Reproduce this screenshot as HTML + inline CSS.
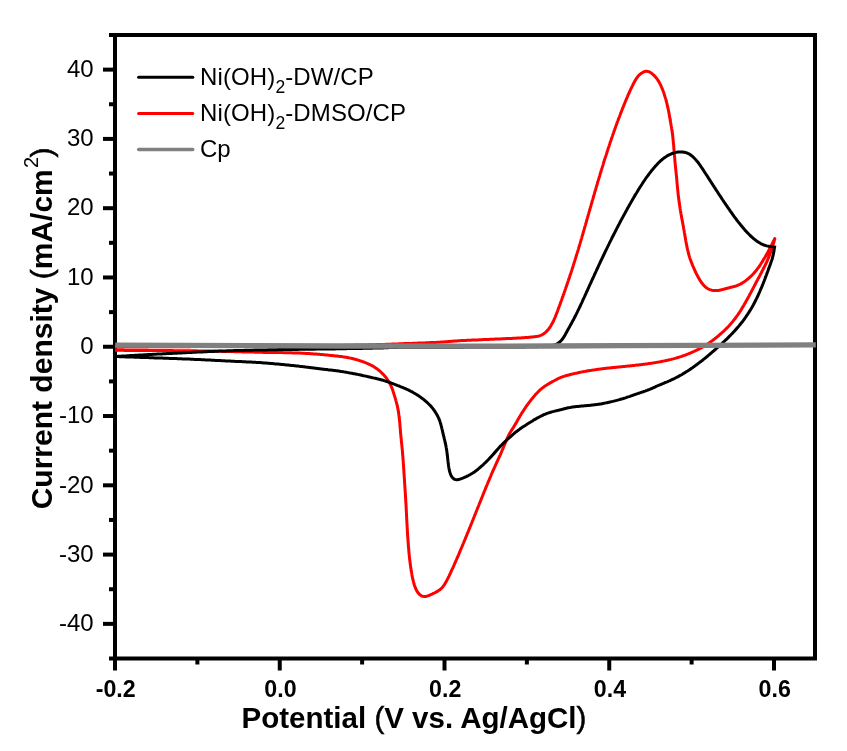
<!DOCTYPE html>
<html><head><meta charset="utf-8">
<style>
html,body{margin:0;padding:0;background:#fff;}
body{width:847px;height:751px;overflow:hidden;}
svg{display:block;}
text{font-family:"Liberation Sans",sans-serif;fill:#000;}
.pr{font-weight:normal;stroke:#000;stroke-width:0.55px;}
</style></head>
<body>
<svg style="will-change:transform" width="847" height="751" viewBox="0 0 847 751">
<rect width="847" height="751" fill="#fff"/>
<g stroke="#000" stroke-width="4" fill="none">
<rect x="115" y="35" width="700" height="623.5"/>
<line x1="103" y1="623.87" x2="115" y2="623.87"/>
<line x1="103" y1="554.59" x2="115" y2="554.59"/>
<line x1="103" y1="485.31" x2="115" y2="485.31"/>
<line x1="103" y1="416.03" x2="115" y2="416.03"/>
<line x1="103" y1="346.75" x2="115" y2="346.75"/>
<line x1="103" y1="277.47" x2="115" y2="277.47"/>
<line x1="103" y1="208.19" x2="115" y2="208.19"/>
<line x1="103" y1="138.91" x2="115" y2="138.91"/>
<line x1="103" y1="69.63" x2="115" y2="69.63"/>
<line x1="109" y1="658.51" x2="115" y2="658.51"/>
<line x1="109" y1="589.23" x2="115" y2="589.23"/>
<line x1="109" y1="519.95" x2="115" y2="519.95"/>
<line x1="109" y1="450.67" x2="115" y2="450.67"/>
<line x1="109" y1="381.39" x2="115" y2="381.39"/>
<line x1="109" y1="312.11" x2="115" y2="312.11"/>
<line x1="109" y1="242.83" x2="115" y2="242.83"/>
<line x1="109" y1="173.55" x2="115" y2="173.55"/>
<line x1="109" y1="104.27" x2="115" y2="104.27"/>
<line x1="109" y1="34.99" x2="115" y2="34.99"/>
<line x1="115.00" y1="658" x2="115.00" y2="670.5"/>
<line x1="279.75" y1="658" x2="279.75" y2="670.5"/>
<line x1="444.50" y1="658" x2="444.50" y2="670.5"/>
<line x1="609.25" y1="658" x2="609.25" y2="670.5"/>
<line x1="774.00" y1="658" x2="774.00" y2="670.5"/>
<line x1="197.38" y1="658" x2="197.38" y2="664.5"/>
<line x1="362.12" y1="658" x2="362.12" y2="664.5"/>
<line x1="526.88" y1="658" x2="526.88" y2="664.5"/>
<line x1="691.62" y1="658" x2="691.62" y2="664.5"/>
</g>
<path d="M115.0,347.0 116.0,347.0 117.0,347.0 118.0,347.0 119.0,347.0 120.0,347.0 121.0,347.0 122.0,347.0 123.0,347.0 124.0,347.0 125.0,347.0 126.0,347.0 127.0,346.9 128.0,346.9 129.0,346.9 130.0,346.9 131.0,346.9 132.0,346.9 133.0,346.9 134.0,346.9 135.0,346.9 136.0,346.9 137.0,346.9 138.0,346.9 139.0,346.9 140.0,346.9 141.0,346.9 142.0,346.9 143.0,346.9 144.0,346.9 145.0,346.9 146.0,346.9 147.0,346.9 148.0,346.9 149.0,346.8 150.0,346.8 151.0,346.8 152.0,346.8 153.0,346.8 154.0,346.8 155.0,346.8 156.0,346.8 157.0,346.8 158.0,346.8 159.0,346.8 160.0,346.8 161.0,346.8 162.0,346.8 163.0,346.8 164.0,346.8 165.0,346.8 166.0,346.8 167.0,346.8 168.0,346.8 169.0,346.8 170.0,346.8 171.0,346.7 172.0,346.7 173.0,346.7 174.0,346.7 175.0,346.7 176.0,346.7 177.0,346.7 178.0,346.7 179.0,346.7 180.0,346.7 181.0,346.7 182.0,346.7 183.0,346.7 184.0,346.7 185.0,346.7 186.0,346.7 187.0,346.7 188.0,346.7 189.0,346.7 190.0,346.7 191.0,346.6 192.0,346.6 193.0,346.6 194.0,346.6 195.0,346.6 196.0,346.6 197.0,346.6 198.0,346.6 199.0,346.6 200.0,346.6 201.0,346.6 202.0,346.6 203.0,346.6 204.0,346.6 205.0,346.6 206.0,346.6 207.0,346.6 208.0,346.6 209.0,346.6 210.0,346.5 211.0,346.5 212.0,346.5 213.0,346.5 214.0,346.5 215.0,346.5 216.0,346.5 217.0,346.5 218.0,346.5 219.0,346.5 220.0,346.5 221.0,346.5 222.0,346.5 223.0,346.5 224.0,346.5 225.0,346.5 226.0,346.5 227.0,346.5 228.0,346.5 229.1,346.5 230.1,346.5 231.1,346.4 232.1,346.4 233.1,346.4 234.1,346.4 235.1,346.4 236.1,346.4 237.1,346.4 238.1,346.4 239.1,346.4 240.1,346.4 241.1,346.4 242.1,346.4 243.1,346.4 244.1,346.4 245.1,346.4 246.1,346.4 247.1,346.4 248.1,346.4 249.1,346.4 250.1,346.4 251.1,346.3 252.1,346.3 253.1,346.3 254.1,346.3 255.1,346.3 256.1,346.3 257.1,346.3 258.1,346.3 259.1,346.3 260.1,346.3 261.1,346.3 262.1,346.3 263.1,346.3 264.1,346.3 265.1,346.3 266.1,346.3 267.1,346.3 268.1,346.3 269.1,346.2 270.1,346.2 271.1,346.2 272.1,346.2 273.1,346.2 274.1,346.2 275.1,346.2 276.1,346.2 277.1,346.2 278.1,346.2 279.1,346.2 280.1,346.2 281.1,346.2 282.1,346.2 283.1,346.1 284.1,346.1 285.1,346.1 286.1,346.1 287.1,346.1 288.1,346.1 289.1,346.1 290.1,346.1 291.1,346.1 292.1,346.1 293.1,346.1 294.1,346.1 295.1,346.0 296.1,346.0 297.1,346.0 298.1,346.0 299.1,346.0 300.1,346.0 301.1,346.0 302.1,346.0 303.1,346.0 304.1,346.0 305.1,345.9 306.1,345.9 307.1,345.9 308.1,345.9 309.1,345.9 310.1,345.9 311.1,345.9 312.1,345.9 313.1,345.8 314.1,345.8 315.1,345.8 316.1,345.8 317.1,345.8 318.1,345.8 319.1,345.8 320.1,345.7 321.1,345.7 322.1,345.7 323.1,345.7 324.1,345.7 325.1,345.7 326.1,345.7 327.1,345.6 328.1,345.6 329.1,345.6 330.1,345.6 331.1,345.6 332.1,345.6 333.1,345.5 334.1,345.5 335.1,345.5 336.1,345.5 337.1,345.5 338.1,345.4 339.1,345.4 340.1,345.4 341.1,345.4 342.1,345.4 343.1,345.4 344.1,345.3 345.1,345.3 346.1,345.3 347.1,345.3 348.1,345.3 349.1,345.2 350.1,345.2 351.1,345.2 352.1,345.2 353.1,345.2 354.1,345.1 355.1,345.1 356.1,345.1 357.1,345.1 358.1,345.1 359.1,345.0 360.1,345.0 361.1,345.0 362.1,345.0 363.1,344.9 364.1,344.9 365.1,344.9 366.1,344.9 367.1,344.9 368.1,344.8 369.1,344.8 370.1,344.8 371.1,344.8 372.1,344.7 373.1,344.7 374.1,344.7 375.1,344.7 376.1,344.7 377.1,344.6 378.1,344.6 379.1,344.6 380.1,344.5 381.1,344.5 382.1,344.5 383.1,344.4 384.1,344.4 385.1,344.4 386.1,344.3 387.1,344.3 388.1,344.3 389.1,344.2 390.1,344.2 391.1,344.2 392.1,344.1 393.1,344.1 394.1,344.0 395.1,344.0 396.1,344.0 397.1,343.9 398.1,343.9 399.1,343.8 400.1,343.8 401.1,343.8 402.1,343.7 403.1,343.7 404.1,343.6 405.1,343.6 406.1,343.6 407.1,343.5 408.1,343.5 409.1,343.5 410.1,343.4 411.1,343.4 412.1,343.4 413.1,343.3 414.1,343.3 415.1,343.2 416.1,343.2 417.1,343.2 418.1,343.1 419.1,343.1 420.1,343.0 421.1,343.0 422.1,343.0 423.1,342.9 424.1,342.9 425.1,342.9 426.1,342.8 427.1,342.8 428.1,342.7 429.1,342.7 430.1,342.6 431.1,342.6 432.1,342.6 433.1,342.5 434.1,342.5 435.1,342.4 436.1,342.4 437.1,342.3 438.1,342.3 439.1,342.2 440.1,342.2 441.1,342.1 442.1,342.0 443.1,342.0 444.1,341.9 445.1,341.8 446.1,341.8 447.1,341.7 448.1,341.6 449.1,341.5 450.1,341.4 451.1,341.3 452.0,341.2 453.0,341.2 454.0,341.1 455.0,341.0 456.0,340.9 457.0,340.9 458.0,340.8 459.0,340.8 460.0,340.7 461.0,340.6 462.0,340.6 463.0,340.5 464.0,340.5 465.0,340.4 466.0,340.4 467.0,340.3 468.0,340.3 469.0,340.3 470.0,340.2 471.0,340.2 472.0,340.1 473.0,340.1 474.0,340.0 475.0,340.0 476.0,339.9 477.0,339.9 478.0,339.9 479.0,339.8 480.0,339.8 481.0,339.7 482.0,339.7 483.0,339.6 484.0,339.6 485.0,339.6 486.0,339.5 487.0,339.5 488.0,339.4 489.0,339.4 490.0,339.3 491.0,339.3 492.0,339.3 493.0,339.2 494.0,339.2 495.0,339.1 496.0,339.1 497.0,339.0 498.0,339.0 499.0,339.0 500.0,338.9 501.0,338.9 502.0,338.8 503.0,338.8 504.0,338.7 505.0,338.7 506.0,338.6 507.0,338.6 508.0,338.6 509.0,338.5 510.0,338.5 511.0,338.4 512.0,338.4 513.0,338.3 514.0,338.3 515.0,338.2 516.0,338.2 517.0,338.1 518.0,338.1 519.0,338.0 520.0,338.0 521.0,337.9 522.0,337.8 523.0,337.8 524.0,337.7 525.0,337.6 526.0,337.5 527.0,337.4 528.0,337.4 529.0,337.3 530.0,337.2 531.0,337.1 532.0,337.0 533.0,336.9 533.9,336.8 534.9,336.7 535.9,336.5 536.9,336.4 537.9,336.2 538.8,336.0 539.8,335.7 540.7,335.4 541.6,335.0 542.5,334.6 543.3,334.1 544.1,333.5 544.9,332.9 545.6,332.3 546.3,331.6 547.0,330.9 547.7,330.1 548.3,329.4 548.9,328.6 549.5,327.8 550.1,327.0 550.6,326.2 551.1,325.3 551.6,324.4 552.1,323.6 552.6,322.7 553.1,321.8 553.5,320.9 553.9,320.0 554.3,319.1 554.7,318.2 555.1,317.3 555.5,316.3 555.9,315.4 556.2,314.5 556.6,313.5 557.0,312.6 557.3,311.7 557.7,310.7 558.0,309.8 558.3,308.9 558.7,307.9 559.0,307.0 559.4,306.0 559.7,305.1 560.1,304.2 560.4,303.2 560.7,302.3 561.1,301.3 561.4,300.4 561.8,299.5 562.1,298.5 562.4,297.6 562.8,296.6 563.1,295.7 563.4,294.7 563.8,293.8 564.1,292.9 564.4,291.9 564.8,291.0 565.1,290.0 565.4,289.1 565.7,288.1 566.1,287.2 566.4,286.2 566.7,285.3 567.0,284.3 567.4,283.4 567.7,282.5 568.0,281.5 568.3,280.6 568.6,279.6 569.0,278.7 569.3,277.7 569.6,276.8 569.9,275.8 570.2,274.9 570.6,273.9 570.9,273.0 571.2,272.0 571.5,271.1 571.8,270.1 572.1,269.2 572.4,268.2 572.7,267.3 573.0,266.3 573.3,265.4 573.6,264.4 573.9,263.4 574.2,262.5 574.5,261.5 574.8,260.6 575.1,259.6 575.4,258.7 575.7,257.7 576.0,256.8 576.3,255.8 576.6,254.8 576.9,253.9 577.2,252.9 577.5,252.0 577.8,251.0 578.1,250.1 578.4,249.1 578.6,248.1 578.9,247.2 579.2,246.2 579.5,245.3 579.8,244.3 580.1,243.4 580.4,242.4 580.6,241.4 580.9,240.5 581.2,239.5 581.5,238.6 581.8,237.6 582.0,236.6 582.3,235.7 582.6,234.7 582.9,233.8 583.2,232.8 583.4,231.8 583.7,230.9 584.0,229.9 584.3,228.9 584.5,228.0 584.8,227.0 585.1,226.1 585.4,225.1 585.6,224.1 585.9,223.2 586.2,222.2 586.5,221.2 586.7,220.3 587.0,219.3 587.3,218.4 587.6,217.4 587.8,216.4 588.1,215.5 588.4,214.5 588.7,213.6 588.9,212.6 589.2,211.6 589.5,210.7 589.8,209.7 590.0,208.7 590.3,207.8 590.6,206.8 590.9,205.9 591.1,204.9 591.4,203.9 591.7,203.0 592.0,202.0 592.2,201.0 592.5,200.1 592.8,199.1 593.1,198.2 593.4,197.2 593.6,196.2 593.9,195.3 594.2,194.3 594.5,193.4 594.7,192.4 595.0,191.4 595.3,190.5 595.6,189.5 595.9,188.6 596.1,187.6 596.4,186.6 596.7,185.7 597.0,184.7 597.3,183.8 597.6,182.8 597.8,181.8 598.1,180.9 598.4,179.9 598.7,179.0 599.0,178.0 599.3,177.0 599.6,176.1 599.8,175.1 600.1,174.2 600.4,173.2 600.7,172.3 601.0,171.3 601.3,170.3 601.6,169.4 601.9,168.4 602.2,167.5 602.5,166.5 602.8,165.6 603.1,164.6 603.4,163.6 603.6,162.7 603.9,161.7 604.2,160.8 604.5,159.8 604.8,158.9 605.1,157.9 605.5,157.0 605.8,156.0 606.1,155.1 606.4,154.1 606.7,153.2 607.0,152.2 607.3,151.3 607.6,150.3 607.9,149.4 608.2,148.4 608.5,147.5 608.9,146.5 609.2,145.6 609.5,144.6 609.8,143.7 610.1,142.7 610.4,141.8 610.8,140.8 611.1,139.9 611.4,138.9 611.7,138.0 612.1,137.0 612.4,136.1 612.7,135.1 613.0,134.2 613.4,133.2 613.7,132.3 614.0,131.4 614.4,130.4 614.7,129.5 615.0,128.5 615.4,127.6 615.7,126.6 616.1,125.7 616.4,124.8 616.7,123.8 617.1,122.9 617.4,121.9 617.8,121.0 618.1,120.1 618.5,119.1 618.8,118.2 619.2,117.3 619.6,116.3 619.9,115.4 620.3,114.5 620.6,113.5 621.0,112.6 621.3,111.7 621.7,110.7 622.1,109.8 622.4,108.9 622.8,107.9 623.2,107.0 623.5,106.1 623.9,105.1 624.3,104.2 624.7,103.3 625.0,102.4 625.4,101.4 625.8,100.5 626.2,99.6 626.6,98.7 627.0,97.7 627.4,96.8 627.7,95.9 628.1,95.0 628.6,94.1 629.0,93.2 629.4,92.2 629.8,91.3 630.2,90.4 630.6,89.5 631.0,88.6 631.5,87.7 631.9,86.8 632.4,85.9 632.8,85.0 633.2,84.1 633.7,83.2 634.2,82.4 634.6,81.5 635.1,80.6 635.6,79.8 636.2,78.9 636.7,78.1 637.3,77.3 637.9,76.5 638.5,75.8 639.2,75.1 639.9,74.4 640.7,73.8 641.5,73.2 642.3,72.7 643.1,72.2 644.0,71.8 644.9,71.5 645.9,71.3 646.8,71.3 647.8,71.4 648.7,71.6 649.6,72.0 650.4,72.5 651.2,73.0 652.0,73.6 652.8,74.3 653.5,74.9 654.2,75.6 654.9,76.3 655.5,77.1 656.2,77.8 656.8,78.6 657.4,79.4 657.9,80.2 658.5,81.1 659.0,81.9 659.5,82.8 659.9,83.7 660.4,84.5 660.8,85.4 661.2,86.3 661.6,87.3 662.0,88.2 662.4,89.1 662.8,90.0 663.1,91.0 663.5,91.9 663.8,92.9 664.1,93.8 664.4,94.8 664.7,95.7 665.0,96.7 665.3,97.6 665.6,98.6 665.9,99.5 666.1,100.5 666.4,101.5 666.6,102.4 666.9,103.4 667.1,104.4 667.3,105.4 667.5,106.3 667.7,107.3 668.0,108.3 668.2,109.3 668.4,110.3 668.6,111.2 668.8,112.2 669.0,113.2 669.2,114.2 669.3,115.2 669.5,116.1 669.7,117.1 669.9,118.1 670.1,119.1 670.2,120.1 670.4,121.1 670.6,122.1 670.7,123.0 670.9,124.0 671.1,125.0 671.2,126.0 671.4,127.0 671.6,128.0 671.7,129.0 671.9,130.0 672.0,130.9 672.2,131.9 672.3,132.9 672.4,133.9 672.6,134.9 672.7,135.9 672.8,136.9 672.9,137.9 673.0,138.9 673.1,139.9 673.2,140.9 673.3,141.9 673.4,142.9 673.5,143.9 673.6,144.9 673.7,145.8 673.8,146.8 673.8,147.8 673.9,148.8 674.0,149.8 674.1,150.8 674.2,151.8 674.2,152.8 674.3,153.8 674.4,154.8 674.5,155.8 674.6,156.8 674.7,157.8 674.8,158.8 674.8,159.8 674.9,160.8 675.0,161.8 675.1,162.8 675.2,163.8 675.3,164.8 675.4,165.8 675.5,166.8 675.6,167.8 675.7,168.8 675.8,169.8 675.9,170.8 676.0,171.8 676.1,172.8 676.2,173.7 676.3,174.7 676.4,175.7 676.5,176.7 676.6,177.7 676.7,178.7 676.8,179.7 676.9,180.7 676.9,181.7 677.0,182.7 677.1,183.7 677.2,184.7 677.3,185.7 677.4,186.7 677.5,187.7 677.6,188.7 677.7,189.7 677.8,190.7 677.9,191.7 678.0,192.7 678.1,193.7 678.2,194.7 678.3,195.7 678.4,196.6 678.6,197.6 678.7,198.6 678.8,199.6 679.0,200.6 679.1,201.6 679.2,202.6 679.4,203.6 679.5,204.6 679.7,205.6 679.8,206.6 680.0,207.5 680.1,208.5 680.3,209.5 680.4,210.5 680.6,211.5 680.8,212.5 680.9,213.5 681.1,214.5 681.3,215.4 681.5,216.4 681.6,217.4 681.8,218.4 682.0,219.4 682.2,220.4 682.4,221.3 682.6,222.3 682.7,223.3 682.9,224.3 683.1,225.3 683.3,226.3 683.5,227.2 683.6,228.2 683.8,229.2 684.0,230.2 684.2,231.2 684.3,232.2 684.5,233.2 684.7,234.1 684.8,235.1 685.0,236.1 685.2,237.1 685.3,238.1 685.5,239.1 685.7,240.1 685.8,241.0 686.0,242.0 686.2,243.0 686.4,244.0 686.6,245.0 686.8,246.0 687.0,246.9 687.2,247.9 687.4,248.9 687.6,249.9 687.9,250.8 688.1,251.8 688.3,252.8 688.6,253.7 688.9,254.7 689.1,255.7 689.4,256.6 689.7,257.6 690.0,258.5 690.4,259.5 690.7,260.4 691.0,261.4 691.4,262.3 691.8,263.2 692.1,264.1 692.5,265.1 692.9,266.0 693.3,266.9 693.7,267.8 694.1,268.7 694.5,269.7 694.9,270.6 695.3,271.5 695.8,272.4 696.2,273.3 696.6,274.2 697.1,275.1 697.5,276.0 698.0,276.8 698.5,277.7 699.0,278.6 699.5,279.4 700.0,280.3 700.6,281.1 701.1,282.0 701.7,282.8 702.3,283.6 702.9,284.3 703.5,285.1 704.2,285.8 704.9,286.5 705.6,287.1 706.4,287.7 707.2,288.3 708.1,288.8 708.9,289.2 709.8,289.6 710.8,289.9 711.7,290.2 712.7,290.4 713.6,290.5 714.6,290.6 715.6,290.6 716.6,290.6 717.5,290.5 718.5,290.4 719.5,290.2 720.5,290.0 721.4,289.8 722.4,289.6 723.4,289.3 724.3,289.1 725.3,288.8 726.3,288.5 727.2,288.3 728.2,288.0 729.1,287.8 730.1,287.5 731.1,287.3 732.0,287.0 733.0,286.8 734.0,286.5 734.9,286.3 735.9,286.0 736.8,285.7 737.7,285.3 738.6,284.9 739.5,284.5 740.4,284.1 741.3,283.6 742.2,283.1 743.0,282.6 743.8,282.0 744.7,281.5 745.5,280.9 746.3,280.3 747.0,279.7 747.8,279.0 748.6,278.4 749.3,277.7 750.1,277.0 750.8,276.4 751.5,275.7 752.2,275.0 752.9,274.3 753.6,273.5 754.3,272.8 754.9,272.0 755.6,271.3 756.2,270.5 756.8,269.7 757.4,268.9 758.0,268.1 758.6,267.3 759.2,266.5 759.7,265.7 760.3,264.8 760.8,264.0 761.3,263.1 761.9,262.3 762.4,261.4 762.9,260.6 763.4,259.7 764.0,258.9 764.5,258.0 765.0,257.2 765.5,256.3 766.0,255.4 766.5,254.6 767.0,253.7 767.5,252.8 768.0,252.0 768.4,251.1 768.9,250.2 769.4,249.3 769.8,248.4 770.3,247.5 770.7,246.6 771.2,245.7 771.6,244.9 772.1,244.0 772.6,243.1 773.0,242.2 773.5,241.3 773.9,240.4 774.4,239.5 774.8,238.6 L774.8,238.6 774.6,239.6 774.3,240.5 774.1,241.5 773.8,242.5 773.5,243.4 773.2,244.4 772.9,245.3 772.6,246.3 772.3,247.2 772.0,248.2 771.7,249.1 771.4,250.1 771.0,251.0 770.7,252.0 770.4,252.9 770.0,253.9 769.7,254.8 769.3,255.7 769.0,256.7 768.6,257.6 768.2,258.5 767.8,259.4 767.4,260.4 767.0,261.3 766.6,262.2 766.2,263.1 765.7,264.0 765.3,264.9 764.9,265.8 764.4,266.7 764.0,267.6 763.5,268.4 763.1,269.3 762.6,270.2 762.1,271.1 761.7,272.0 761.2,272.9 760.8,273.8 760.3,274.7 759.8,275.5 759.4,276.4 758.9,277.3 758.4,278.2 757.9,279.1 757.5,280.0 757.0,280.8 756.5,281.7 756.1,282.6 755.6,283.5 755.1,284.4 754.7,285.3 754.2,286.2 753.7,287.0 753.3,287.9 752.8,288.8 752.4,289.7 751.9,290.6 751.4,291.5 751.0,292.4 750.5,293.2 750.0,294.1 749.5,295.0 749.1,295.9 748.6,296.8 748.1,297.6 747.6,298.5 747.1,299.4 746.6,300.3 746.2,301.1 745.7,302.0 745.2,302.9 744.7,303.7 744.2,304.6 743.7,305.5 743.2,306.3 742.7,307.2 742.1,308.1 741.6,308.9 741.1,309.8 740.6,310.6 740.0,311.5 739.5,312.3 738.9,313.1 738.4,314.0 737.8,314.8 737.2,315.6 736.6,316.4 736.1,317.2 735.5,318.0 734.9,318.8 734.2,319.6 733.6,320.4 733.0,321.2 732.4,321.9 731.7,322.7 731.1,323.5 730.4,324.2 729.8,325.0 729.1,325.7 728.4,326.5 727.7,327.2 727.0,327.9 726.3,328.6 725.6,329.3 724.9,330.0 724.2,330.7 723.5,331.4 722.7,332.0 722.0,332.7 721.2,333.4 720.5,334.0 719.7,334.7 719.0,335.3 718.2,336.0 717.4,336.6 716.7,337.3 715.9,337.9 715.1,338.5 714.3,339.1 713.5,339.8 712.7,340.4 711.9,341.0 711.1,341.5 710.3,342.1 709.5,342.7 708.7,343.3 707.8,343.8 707.0,344.4 706.2,344.9 705.3,345.4 704.5,346.0 703.6,346.5 702.7,347.0 701.9,347.5 701.0,347.9 700.1,348.4 699.2,348.9 698.3,349.4 697.4,349.8 696.5,350.2 695.6,350.7 694.7,351.1 693.8,351.5 692.9,351.9 692.0,352.3 691.1,352.7 690.2,353.1 689.2,353.5 688.3,353.9 687.4,354.2 686.5,354.6 685.5,355.0 684.6,355.3 683.6,355.6 682.7,356.0 681.7,356.3 680.8,356.6 679.8,356.9 678.9,357.2 677.9,357.5 677.0,357.8 676.0,358.1 675.1,358.4 674.1,358.6 673.1,358.9 672.2,359.1 671.2,359.4 670.2,359.6 669.3,359.8 668.3,360.1 667.3,360.3 666.3,360.5 665.3,360.7 664.4,360.9 663.4,361.1 662.4,361.3 661.4,361.5 660.4,361.7 659.5,361.9 658.5,362.1 657.5,362.2 656.5,362.4 655.5,362.6 654.5,362.7 653.5,362.9 652.6,363.1 651.6,363.2 650.6,363.4 649.6,363.5 648.6,363.6 647.6,363.8 646.6,363.9 645.6,364.0 644.6,364.2 643.6,364.3 642.6,364.4 641.7,364.5 640.7,364.7 639.7,364.8 638.7,364.9 637.7,365.0 636.7,365.1 635.7,365.2 634.7,365.4 633.7,365.5 632.7,365.6 631.7,365.7 630.7,365.8 629.7,365.9 628.7,366.0 627.7,366.1 626.7,366.2 625.7,366.3 624.7,366.4 623.8,366.5 622.8,366.6 621.8,366.7 620.8,366.8 619.8,366.9 618.8,367.0 617.8,367.1 616.8,367.2 615.8,367.3 614.8,367.4 613.8,367.5 612.8,367.6 611.8,367.7 610.8,367.8 609.8,367.9 608.8,368.0 607.8,368.1 606.8,368.2 605.8,368.3 604.9,368.5 603.9,368.6 602.9,368.7 601.9,368.8 600.9,368.9 599.9,369.1 598.9,369.2 597.9,369.3 596.9,369.5 595.9,369.6 594.9,369.8 593.9,369.9 593.0,370.1 592.0,370.2 591.0,370.4 590.0,370.5 589.0,370.7 588.0,370.8 587.0,371.0 586.0,371.2 585.1,371.4 584.1,371.6 583.1,371.7 582.1,371.9 581.1,372.1 580.2,372.3 579.2,372.5 578.2,372.7 577.2,373.0 576.2,373.2 575.3,373.4 574.3,373.6 573.3,373.8 572.3,374.1 571.4,374.3 570.4,374.5 569.4,374.8 568.5,375.0 567.5,375.3 566.5,375.5 565.6,375.8 564.6,376.1 563.7,376.4 562.7,376.7 561.8,377.1 560.9,377.4 559.9,377.8 559.0,378.2 558.1,378.7 557.2,379.1 556.4,379.6 555.5,380.0 554.6,380.5 553.7,381.0 552.8,381.4 551.9,381.9 551.1,382.4 550.2,382.9 549.3,383.4 548.5,383.9 547.6,384.4 546.8,385.0 545.9,385.5 545.1,386.1 544.3,386.6 543.5,387.2 542.7,387.8 541.9,388.4 541.1,389.1 540.4,389.7 539.6,390.4 538.9,391.1 538.2,391.7 537.5,392.5 536.8,393.2 536.1,393.9 535.4,394.6 534.8,395.4 534.1,396.2 533.5,396.9 532.9,397.7 532.2,398.5 531.6,399.3 531.0,400.0 530.4,400.8 529.8,401.6 529.2,402.4 528.6,403.2 528.0,404.0 527.4,404.8 526.8,405.6 526.2,406.4 525.6,407.3 525.1,408.1 524.5,408.9 524.0,409.8 523.4,410.6 522.9,411.4 522.3,412.3 521.8,413.1 521.3,414.0 520.8,414.8 520.2,415.7 519.7,416.6 519.2,417.4 518.7,418.3 518.2,419.1 517.7,420.0 517.2,420.9 516.8,421.8 516.3,422.6 515.8,423.5 515.2,424.3 514.7,425.2 514.2,426.1 513.7,426.9 513.2,427.8 512.6,428.6 512.1,429.4 511.5,430.3 511.0,431.1 510.5,432.0 510.0,432.8 509.5,433.7 509.0,434.6 508.6,435.5 508.1,436.4 507.7,437.3 507.3,438.2 506.9,439.1 506.5,440.0 506.1,440.9 505.7,441.9 505.3,442.8 504.9,443.7 504.6,444.6 504.2,445.5 503.8,446.5 503.4,447.4 503.0,448.3 502.6,449.2 502.2,450.2 501.9,451.1 501.5,452.0 501.1,452.9 500.7,453.8 500.3,454.8 499.9,455.7 499.5,456.6 499.0,457.5 498.6,458.4 498.2,459.3 497.8,460.2 497.4,461.1 497.0,462.0 496.5,463.0 496.1,463.9 495.7,464.8 495.3,465.7 494.9,466.6 494.5,467.5 494.1,468.4 493.7,469.3 493.2,470.2 492.8,471.2 492.4,472.1 492.0,473.0 491.6,473.9 491.2,474.8 490.9,475.7 490.5,476.7 490.1,477.6 489.7,478.5 489.3,479.4 488.9,480.4 488.5,481.3 488.1,482.2 487.7,483.1 487.4,484.0 487.0,485.0 486.6,485.9 486.2,486.8 485.8,487.7 485.5,488.7 485.1,489.6 484.7,490.5 484.3,491.5 484.0,492.4 483.6,493.3 483.2,494.2 482.9,495.2 482.5,496.1 482.1,497.0 481.7,498.0 481.4,498.9 481.0,499.8 480.6,500.7 480.2,501.7 479.9,502.6 479.5,503.5 479.1,504.5 478.7,505.4 478.4,506.3 478.0,507.2 477.6,508.2 477.2,509.1 476.9,510.0 476.5,510.9 476.1,511.9 475.8,512.8 475.4,513.7 475.0,514.7 474.6,515.6 474.3,516.5 473.9,517.4 473.5,518.4 473.1,519.3 472.8,520.2 472.4,521.2 472.0,522.1 471.7,523.0 471.3,523.9 470.9,524.9 470.5,525.8 470.2,526.7 469.8,527.7 469.4,528.6 469.0,529.5 468.7,530.4 468.3,531.4 467.9,532.3 467.5,533.2 467.1,534.1 466.8,535.1 466.4,536.0 466.0,536.9 465.6,537.8 465.3,538.8 464.9,539.7 464.5,540.6 464.1,541.5 463.7,542.5 463.3,543.4 463.0,544.3 462.6,545.2 462.2,546.2 461.8,547.1 461.4,548.0 461.0,548.9 460.6,549.8 460.2,550.8 459.9,551.7 459.5,552.6 459.1,553.5 458.7,554.5 458.3,555.4 457.9,556.3 457.5,557.2 457.1,558.1 456.7,559.0 456.3,560.0 455.9,560.9 455.5,561.8 455.1,562.7 454.7,563.6 454.3,564.5 453.9,565.5 453.5,566.4 453.1,567.3 452.7,568.2 452.2,569.1 451.8,570.0 451.4,570.9 451.0,571.8 450.6,572.7 450.2,573.7 449.7,574.6 449.3,575.5 448.9,576.4 448.4,577.3 448.0,578.2 447.5,579.0 447.1,579.9 446.6,580.8 446.1,581.7 445.6,582.6 445.1,583.4 444.6,584.3 444.1,585.1 443.5,585.9 442.9,586.7 442.3,587.5 441.6,588.2 440.9,588.8 440.2,589.5 439.4,590.1 438.6,590.6 437.8,591.1 436.9,591.6 436.0,592.1 435.1,592.6 434.3,593.0 433.4,593.4 432.5,593.9 431.6,594.3 430.7,594.7 429.8,595.1 428.8,595.5 427.9,595.8 427.0,596.1 426.1,596.4 425.1,596.5 424.2,596.6 423.2,596.4 422.3,596.2 421.4,595.8 420.6,595.2 419.8,594.6 419.1,594.0 418.5,593.3 417.9,592.5 417.3,591.7 416.8,590.9 416.4,590.0 415.9,589.1 415.5,588.2 415.2,587.3 414.8,586.4 414.5,585.4 414.2,584.5 413.9,583.5 413.7,582.5 413.4,581.6 413.2,580.6 413.0,579.6 412.7,578.7 412.5,577.7 412.3,576.7 412.1,575.7 411.9,574.7 411.8,573.8 411.6,572.8 411.4,571.8 411.2,570.8 411.1,569.8 410.9,568.8 410.8,567.8 410.6,566.8 410.5,565.9 410.4,564.9 410.2,563.9 410.1,562.9 410.0,561.9 409.9,560.9 409.7,559.9 409.6,558.9 409.5,557.9 409.4,556.9 409.3,555.9 409.2,554.9 409.1,553.9 409.0,552.9 408.9,551.9 408.8,550.9 408.8,549.9 408.7,549.0 408.6,548.0 408.5,547.0 408.4,546.0 408.3,545.0 408.3,544.0 408.2,543.0 408.1,542.0 408.0,541.0 408.0,540.0 407.9,539.0 407.8,538.0 407.8,537.0 407.7,536.0 407.6,535.0 407.6,534.0 407.5,533.0 407.4,532.0 407.4,531.0 407.3,530.0 407.3,529.0 407.2,528.0 407.2,527.0 407.1,526.0 407.0,525.0 407.0,524.0 406.9,523.0 406.9,522.0 406.8,521.0 406.8,520.0 406.7,519.0 406.7,518.0 406.6,517.0 406.6,516.0 406.5,515.0 406.5,514.0 406.4,513.0 406.4,512.0 406.3,511.0 406.3,510.0 406.2,509.0 406.2,508.0 406.1,507.0 406.1,506.0 406.0,505.0 406.0,504.0 405.9,503.0 405.8,502.0 405.8,501.0 405.7,500.0 405.7,499.0 405.6,498.0 405.5,497.0 405.5,496.0 405.4,495.0 405.4,494.0 405.3,493.0 405.2,492.0 405.2,491.0 405.1,490.0 405.0,489.0 405.0,488.0 404.9,487.0 404.8,486.0 404.8,485.1 404.7,484.1 404.6,483.1 404.6,482.1 404.5,481.1 404.5,480.1 404.4,479.1 404.3,478.1 404.3,477.1 404.2,476.1 404.1,475.1 404.1,474.1 404.0,473.1 403.9,472.1 403.9,471.1 403.8,470.1 403.7,469.1 403.7,468.1 403.6,467.1 403.5,466.1 403.5,465.1 403.4,464.1 403.3,463.1 403.3,462.1 403.2,461.1 403.1,460.1 403.0,459.1 403.0,458.1 402.9,457.1 402.8,456.1 402.7,455.1 402.6,454.1 402.6,453.1 402.5,452.1 402.4,451.1 402.3,450.1 402.2,449.1 402.1,448.1 402.0,447.1 401.9,446.1 401.8,445.1 401.7,444.2 401.6,443.2 401.5,442.2 401.4,441.2 401.3,440.2 401.2,439.2 401.1,438.2 401.0,437.2 400.9,436.2 400.8,435.2 400.7,434.2 400.6,433.2 400.5,432.2 400.4,431.2 400.4,430.2 400.3,429.2 400.2,428.2 400.1,427.2 400.0,426.2 399.9,425.2 399.9,424.2 399.8,423.2 399.7,422.2 399.6,421.2 399.5,420.3 399.4,419.3 399.3,418.3 399.2,417.3 399.0,416.3 398.9,415.3 398.8,414.3 398.6,413.3 398.5,412.3 398.3,411.3 398.2,410.3 398.0,409.4 397.8,408.4 397.6,407.4 397.4,406.4 397.2,405.4 396.9,404.5 396.7,403.5 396.5,402.5 396.2,401.6 395.9,400.6 395.7,399.6 395.4,398.7 395.1,397.7 394.8,396.8 394.5,395.8 394.2,394.9 393.9,393.9 393.6,392.9 393.3,392.0 393.0,391.0 392.7,390.1 392.4,389.2 392.0,388.2 391.6,387.3 391.3,386.4 390.8,385.5 390.4,384.6 390.0,383.7 389.5,382.8 389.0,382.0 388.5,381.1 387.9,380.3 387.4,379.5 386.8,378.6 386.2,377.8 385.6,377.1 384.9,376.3 384.3,375.5 383.6,374.8 382.9,374.1 382.2,373.4 381.5,372.7 380.8,372.0 380.1,371.3 379.3,370.7 378.5,370.0 377.7,369.4 376.9,368.8 376.1,368.2 375.3,367.7 374.5,367.1 373.6,366.6 372.8,366.1 371.9,365.6 371.0,365.2 370.1,364.7 369.2,364.3 368.3,363.9 367.4,363.5 366.5,363.1 365.5,362.7 364.6,362.4 363.7,362.0 362.7,361.6 361.8,361.3 360.9,361.0 359.9,360.7 359.0,360.4 358.0,360.1 357.0,359.8 356.1,359.5 355.1,359.2 354.2,359.0 353.2,358.7 352.2,358.5 351.2,358.3 350.3,358.1 349.3,357.9 348.3,357.7 347.3,357.5 346.3,357.3 345.3,357.2 344.4,357.0 343.4,356.9 342.4,356.7 341.4,356.6 340.4,356.5 339.4,356.4 338.4,356.2 337.4,356.1 336.4,356.0 335.4,355.9 334.4,355.8 333.4,355.7 332.4,355.6 331.4,355.5 330.5,355.4 329.5,355.3 328.5,355.2 327.5,355.1 326.5,355.0 325.5,354.9 324.5,354.8 323.5,354.7 322.5,354.6 321.5,354.5 320.5,354.4 319.5,354.3 318.5,354.3 317.5,354.2 316.5,354.1 315.5,354.0 314.5,353.9 313.5,353.9 312.5,353.8 311.5,353.7 310.5,353.7 309.5,353.6 308.5,353.5 307.5,353.5 306.5,353.4 305.5,353.4 304.5,353.3 303.5,353.3 302.5,353.2 301.5,353.2 300.5,353.1 299.5,353.1 298.5,353.1 297.5,353.0 296.5,353.0 295.5,353.0 294.5,352.9 293.5,352.9 292.5,352.9 291.5,352.8 290.5,352.8 289.5,352.8 288.5,352.8 287.5,352.7 286.5,352.7 285.5,352.7 284.5,352.7 283.5,352.7 282.5,352.6 281.5,352.6 280.5,352.6 279.5,352.6 278.5,352.6 277.5,352.6 276.5,352.6 275.5,352.5 274.5,352.5 273.5,352.5 272.5,352.5 271.5,352.5 270.5,352.5 269.5,352.5 268.5,352.4 267.5,352.4 266.5,352.4 265.5,352.4 264.5,352.4 263.5,352.4 262.5,352.3 261.5,352.3 260.5,352.3 259.5,352.3 258.5,352.3 257.5,352.2 256.5,352.2 255.5,352.2 254.5,352.2 253.5,352.1 252.5,352.1 251.5,352.1 250.5,352.1 249.5,352.0 248.5,352.0 247.5,352.0 246.5,352.0 245.5,351.9 244.5,351.9 243.5,351.9 242.5,351.9 241.5,351.8 240.5,351.8 239.5,351.8 238.5,351.8 237.5,351.7 236.5,351.7 235.5,351.7 234.5,351.7 233.5,351.6 232.5,351.6 231.5,351.6 230.5,351.6 229.5,351.5 228.5,351.5 227.5,351.5 226.5,351.5 225.5,351.4 224.5,351.4 223.5,351.4 222.5,351.4 221.5,351.3 220.5,351.3 219.5,351.3 218.5,351.2 217.5,351.2 216.5,351.2 215.5,351.2 214.5,351.1 213.5,351.1 212.5,351.1 211.5,351.1 210.5,351.0 209.5,351.0 208.5,351.0 207.5,351.0 206.5,351.0 205.5,351.0 204.5,350.9 203.5,350.9 202.5,350.9 201.5,350.9 200.5,350.9 199.5,350.9 198.5,350.9 197.5,350.9 196.5,350.8 195.5,350.8 194.5,350.8 193.5,350.8 192.5,350.8 191.5,350.8 190.5,350.8 189.5,350.8 188.5,350.8 187.5,350.8 186.5,350.8 185.5,350.7 184.5,350.7 183.5,350.7 182.5,350.7 181.5,350.7 180.5,350.7 179.5,350.7 178.5,350.7 177.5,350.7 176.5,350.7 175.5,350.7 174.5,350.7 173.5,350.7 172.5,350.6 171.5,350.6 170.5,350.6 169.5,350.6 168.5,350.6 167.5,350.6 166.5,350.6 165.5,350.6 164.5,350.6 163.5,350.6 162.5,350.6 161.5,350.6 160.5,350.6 159.5,350.6 158.5,350.6 157.5,350.5 156.5,350.5 155.5,350.5 154.5,350.5 153.5,350.5 152.5,350.5 151.5,350.5 150.5,350.5 149.5,350.5 148.5,350.5 147.5,350.5 146.5,350.5 145.5,350.5 144.5,350.5 143.5,350.5 142.5,350.5 141.5,350.4 140.5,350.4 139.5,350.4 138.5,350.4 137.5,350.4 136.5,350.4 135.5,350.4 134.5,350.4 133.5,350.4 132.5,350.4 131.5,350.4 130.5,350.4 129.5,350.4 128.5,350.4 127.5,350.4 126.5,350.4 125.5,350.4 124.5,350.4 123.5,350.3 122.5,350.3 121.5,350.3 120.5,350.3 119.5,350.3 118.5,350.3 117.5,350.3 116.5,350.3 115.5,350.3 115.0,350.3" fill="none" stroke="#ff0000" stroke-width="3" stroke-linejoin="round" stroke-linecap="butt"/>
<path d="M115.0,356.5 116.0,356.4 117.0,356.4 118.0,356.3 119.0,356.3 120.0,356.2 121.0,356.2 122.0,356.1 123.0,356.0 124.0,356.0 125.0,355.9 126.0,355.9 127.0,355.8 128.0,355.7 129.0,355.7 130.0,355.6 131.0,355.6 132.0,355.5 133.0,355.5 134.0,355.4 135.0,355.3 136.0,355.3 137.0,355.2 138.0,355.2 139.0,355.1 140.0,355.1 141.0,355.0 142.0,354.9 143.0,354.9 144.0,354.8 145.0,354.8 146.0,354.7 147.0,354.7 148.0,354.6 149.0,354.6 150.0,354.5 151.0,354.5 152.0,354.4 153.0,354.3 154.0,354.3 155.0,354.2 156.0,354.2 157.0,354.1 158.0,354.1 159.0,354.0 160.0,354.0 161.0,353.9 162.0,353.9 163.0,353.8 163.9,353.8 164.9,353.7 165.9,353.7 166.9,353.6 167.9,353.6 168.9,353.5 169.9,353.5 170.9,353.4 171.9,353.4 172.9,353.3 173.9,353.3 174.9,353.3 175.9,353.2 176.9,353.2 177.9,353.1 178.9,353.1 179.9,353.0 180.9,352.9 181.9,352.9 182.9,352.8 183.9,352.8 184.9,352.7 185.9,352.7 186.9,352.6 187.9,352.6 188.9,352.5 189.9,352.5 190.9,352.4 191.9,352.4 192.9,352.3 193.9,352.3 194.9,352.2 195.9,352.2 196.9,352.1 197.9,352.1 198.9,352.0 199.9,352.0 200.9,352.0 201.9,351.9 202.9,351.9 203.9,351.8 204.9,351.8 205.9,351.7 206.9,351.7 207.9,351.6 208.9,351.6 209.9,351.5 210.9,351.5 211.9,351.4 212.9,351.4 213.9,351.4 214.9,351.3 215.9,351.3 216.9,351.2 217.9,351.2 218.9,351.1 219.9,351.1 220.9,351.1 221.9,351.0 222.9,351.0 223.9,350.9 224.9,350.9 225.9,350.9 226.9,350.8 227.9,350.8 228.9,350.8 229.9,350.7 230.9,350.7 231.9,350.7 232.9,350.7 233.9,350.6 234.9,350.6 235.9,350.6 236.9,350.5 237.9,350.5 238.9,350.5 239.9,350.5 240.9,350.4 241.9,350.4 242.9,350.4 243.9,350.4 244.9,350.3 245.9,350.3 246.9,350.3 247.9,350.3 248.9,350.2 249.9,350.2 250.9,350.2 251.9,350.2 252.9,350.2 253.9,350.1 254.9,350.1 255.9,350.1 256.9,350.1 257.9,350.0 258.9,350.0 259.9,350.0 260.9,350.0 261.9,350.0 262.9,349.9 263.9,349.9 264.9,349.9 265.9,349.9 266.9,349.9 267.9,349.8 268.9,349.8 269.9,349.8 270.9,349.8 271.9,349.7 272.9,349.7 273.9,349.7 274.9,349.7 275.9,349.7 276.9,349.7 277.9,349.6 278.9,349.6 279.9,349.6 280.9,349.6 281.9,349.6 282.9,349.6 283.9,349.5 284.9,349.5 285.9,349.5 286.9,349.5 287.9,349.5 288.9,349.5 289.9,349.4 290.9,349.4 291.9,349.4 292.9,349.4 293.9,349.4 294.9,349.4 295.9,349.4 296.9,349.4 297.9,349.4 298.9,349.3 299.9,349.3 300.9,349.3 301.9,349.3 302.9,349.3 303.9,349.3 304.9,349.3 305.9,349.3 306.9,349.3 307.9,349.2 308.9,349.2 309.9,349.2 310.9,349.2 311.9,349.2 312.9,349.2 313.9,349.2 314.9,349.2 315.9,349.1 316.9,349.1 317.9,349.1 318.9,349.1 319.9,349.1 320.9,349.1 321.9,349.1 322.9,349.0 323.9,349.0 324.9,349.0 325.9,349.0 326.9,349.0 327.9,349.0 328.9,348.9 329.9,348.9 330.9,348.9 331.9,348.9 332.9,348.9 333.9,348.9 334.9,348.9 335.9,348.8 336.9,348.8 337.9,348.8 338.9,348.8 339.9,348.8 340.9,348.7 341.9,348.7 342.9,348.7 344.0,348.7 345.0,348.7 346.0,348.7 347.0,348.6 348.0,348.6 349.0,348.6 350.0,348.6 351.0,348.6 352.0,348.5 353.0,348.5 354.0,348.5 355.0,348.5 356.0,348.5 357.0,348.5 358.0,348.4 359.0,348.4 360.0,348.4 361.0,348.4 362.0,348.4 363.0,348.3 364.0,348.3 365.0,348.3 366.0,348.3 367.0,348.3 368.0,348.2 369.0,348.2 370.0,348.2 371.0,348.2 372.0,348.2 373.0,348.1 374.0,348.1 375.0,348.1 376.0,348.1 377.0,348.0 378.0,348.0 379.0,348.0 380.0,348.0 381.0,347.9 382.0,347.9 383.0,347.9 384.0,347.8 385.0,347.8 386.0,347.8 387.0,347.7 388.0,347.7 389.0,347.6 390.0,347.6 391.0,347.6 392.0,347.5 393.0,347.5 394.0,347.4 395.0,347.4 396.0,347.4 397.0,347.4 398.0,347.3 399.0,347.3 400.0,347.3 401.0,347.3 402.0,347.3 403.0,347.3 404.0,347.3 405.0,347.3 406.0,347.3 407.0,347.3 408.0,347.3 409.0,347.3 410.0,347.3 411.0,347.2 412.0,347.2 413.0,347.2 414.0,347.2 415.0,347.2 416.0,347.2 417.0,347.2 418.0,347.2 419.0,347.2 420.0,347.2 421.0,347.2 422.0,347.2 423.0,347.2 424.0,347.2 425.0,347.2 426.0,347.2 427.0,347.2 428.0,347.2 429.0,347.2 430.0,347.2 431.0,347.2 432.0,347.2 433.0,347.2 434.0,347.2 435.0,347.2 436.0,347.2 437.0,347.2 438.0,347.2 439.0,347.2 440.0,347.2 441.0,347.2 442.0,347.2 443.0,347.2 444.0,347.2 445.0,347.2 446.0,347.2 447.0,347.2 448.0,347.2 449.0,347.2 450.0,347.2 451.0,347.2 452.0,347.2 453.0,347.2 454.0,347.2 455.0,347.2 456.0,347.2 457.0,347.2 458.0,347.2 459.0,347.2 460.0,347.2 461.0,347.2 462.0,347.2 463.0,347.2 464.0,347.2 465.0,347.1 466.0,347.1 467.0,347.1 468.0,347.1 469.0,347.1 470.0,347.1 471.0,347.1 472.0,347.1 473.0,347.1 474.0,347.1 475.0,347.1 476.0,347.1 477.0,347.1 478.0,347.1 479.0,347.1 480.0,347.1 481.0,347.1 482.0,347.1 483.0,347.1 484.0,347.1 485.0,347.1 486.0,347.1 487.0,347.1 488.0,347.1 489.0,347.1 490.0,347.0 491.0,347.0 492.0,347.0 493.0,347.0 494.0,347.0 495.0,347.0 496.0,347.0 497.0,347.0 498.0,347.0 499.0,347.0 500.0,347.0 501.0,347.0 502.0,347.0 503.0,347.0 504.0,347.0 505.0,347.0 506.0,347.0 507.0,347.0 508.0,347.0 509.0,347.0 510.0,347.0 511.0,346.9 512.0,346.9 513.0,346.9 514.0,346.9 515.0,346.9 516.0,346.9 517.0,346.9 518.0,346.9 519.0,346.9 520.0,346.9 521.0,346.9 522.0,346.9 523.0,346.9 524.0,346.9 525.0,346.9 526.0,346.8 527.0,346.8 528.0,346.8 529.0,346.8 530.0,346.8 531.0,346.8 532.0,346.8 533.0,346.7 534.0,346.7 535.0,346.7 536.0,346.7 537.0,346.7 538.0,346.6 539.0,346.6 540.0,346.6 541.0,346.6 542.0,346.5 543.0,346.5 544.0,346.4 545.0,346.4 546.0,346.3 547.0,346.3 548.0,346.2 549.0,346.1 550.0,345.9 551.0,345.8 551.9,345.6 552.9,345.4 553.8,345.1 554.8,344.8 555.7,344.4 556.6,344.0 557.4,343.6 558.3,343.1 559.1,342.5 559.8,341.9 560.6,341.2 561.2,340.5 561.9,339.8 562.5,339.0 563.1,338.2 563.6,337.4 564.1,336.6 564.7,335.7 565.2,334.9 565.6,334.0 566.1,333.1 566.6,332.2 567.1,331.4 567.5,330.5 568.0,329.6 568.5,328.7 569.0,327.8 569.5,327.0 569.9,326.1 570.4,325.2 570.9,324.3 571.4,323.4 571.9,322.6 572.3,321.7 572.8,320.8 573.3,319.9 573.8,319.0 574.2,318.2 574.7,317.3 575.1,316.4 575.6,315.5 576.0,314.6 576.5,313.7 576.9,312.8 577.4,311.9 577.8,311.0 578.2,310.1 578.7,309.2 579.1,308.3 579.5,307.4 580.0,306.5 580.4,305.6 580.8,304.7 581.2,303.8 581.7,302.9 582.1,302.0 582.5,301.0 582.9,300.1 583.3,299.2 583.7,298.3 584.2,297.4 584.6,296.5 585.0,295.6 585.4,294.7 585.8,293.8 586.2,292.9 586.6,291.9 587.1,291.0 587.5,290.1 587.9,289.2 588.3,288.3 588.7,287.4 589.1,286.5 589.5,285.6 589.9,284.7 590.4,283.7 590.8,282.8 591.2,281.9 591.6,281.0 592.0,280.1 592.4,279.2 592.9,278.3 593.3,277.4 593.7,276.5 594.1,275.6 594.5,274.6 594.9,273.7 595.4,272.8 595.8,271.9 596.2,271.0 596.6,270.1 597.0,269.2 597.5,268.3 597.9,267.4 598.3,266.5 598.7,265.6 599.1,264.7 599.6,263.7 600.0,262.8 600.4,261.9 600.8,261.0 601.3,260.1 601.7,259.2 602.1,258.3 602.5,257.4 603.0,256.5 603.4,255.6 603.8,254.7 604.3,253.8 604.7,252.9 605.1,252.0 605.6,251.1 606.0,250.2 606.4,249.3 606.9,248.4 607.3,247.5 607.7,246.6 608.2,245.7 608.6,244.8 609.1,243.9 609.5,243.0 609.9,242.1 610.4,241.2 610.8,240.3 611.3,239.4 611.7,238.5 612.2,237.6 612.6,236.7 613.1,235.8 613.5,234.9 614.0,234.0 614.4,233.1 614.9,232.3 615.3,231.4 615.8,230.5 616.2,229.6 616.7,228.7 617.1,227.8 617.6,226.9 618.1,226.0 618.5,225.1 619.0,224.3 619.5,223.4 619.9,222.5 620.4,221.6 620.9,220.7 621.3,219.8 621.8,219.0 622.3,218.1 622.8,217.2 623.2,216.3 623.7,215.4 624.2,214.5 624.7,213.7 625.1,212.8 625.6,211.9 626.1,211.0 626.6,210.2 627.1,209.3 627.5,208.4 628.0,207.5 628.5,206.7 629.0,205.8 629.5,204.9 630.0,204.0 630.5,203.2 631.0,202.3 631.5,201.4 632.0,200.6 632.5,199.7 633.0,198.8 633.5,198.0 634.0,197.1 634.5,196.2 635.0,195.4 635.5,194.5 636.0,193.7 636.6,192.8 637.1,192.0 637.6,191.1 638.1,190.3 638.6,189.4 639.2,188.5 639.7,187.7 640.2,186.9 640.8,186.0 641.3,185.2 641.9,184.3 642.4,183.5 642.9,182.6 643.5,181.8 644.1,181.0 644.6,180.2 645.2,179.3 645.7,178.5 646.3,177.7 646.9,176.9 647.5,176.1 648.1,175.3 648.7,174.5 649.3,173.7 649.9,172.9 650.5,172.1 651.1,171.3 651.7,170.5 652.4,169.7 653.0,168.9 653.6,168.2 654.3,167.4 654.9,166.7 655.6,165.9 656.3,165.2 657.0,164.4 657.6,163.7 658.4,163.0 659.1,162.3 659.8,161.6 660.5,160.9 661.3,160.3 662.0,159.6 662.8,159.0 663.6,158.4 664.4,157.8 665.2,157.2 666.0,156.7 666.9,156.1 667.7,155.6 668.6,155.1 669.5,154.7 670.4,154.3 671.3,153.9 672.2,153.5 673.1,153.2 674.1,152.9 675.0,152.6 676.0,152.4 676.9,152.2 677.9,152.1 678.9,152.0 679.9,151.9 680.9,151.9 681.8,151.9 682.8,152.0 683.8,152.2 684.8,152.3 685.7,152.6 686.6,152.9 687.5,153.2 688.4,153.7 689.3,154.1 690.1,154.6 690.9,155.2 691.7,155.8 692.5,156.4 693.2,157.1 693.9,157.8 694.6,158.5 695.3,159.2 696.0,159.9 696.6,160.7 697.3,161.5 697.9,162.2 698.5,163.0 699.1,163.8 699.7,164.7 700.2,165.5 700.8,166.3 701.3,167.1 701.9,168.0 702.5,168.8 703.0,169.6 703.5,170.5 704.1,171.3 704.6,172.1 705.2,173.0 705.7,173.8 706.3,174.7 706.8,175.5 707.4,176.3 707.9,177.2 708.5,178.0 709.0,178.9 709.5,179.7 710.1,180.5 710.6,181.4 711.2,182.2 711.7,183.1 712.3,183.9 712.8,184.7 713.3,185.6 713.9,186.4 714.4,187.3 715.0,188.1 715.5,188.9 716.1,189.8 716.6,190.6 717.2,191.5 717.7,192.3 718.2,193.1 718.8,194.0 719.3,194.8 719.9,195.6 720.4,196.5 721.0,197.3 721.5,198.2 722.1,199.0 722.6,199.8 723.2,200.7 723.8,201.5 724.3,202.3 724.9,203.1 725.4,204.0 726.0,204.8 726.6,205.6 727.1,206.5 727.7,207.3 728.3,208.1 728.8,208.9 729.4,209.7 730.0,210.6 730.5,211.4 731.1,212.2 731.7,213.0 732.3,213.8 732.9,214.7 733.4,215.5 734.0,216.3 734.6,217.1 735.2,217.9 735.8,218.7 736.4,219.5 737.0,220.3 737.6,221.1 738.2,221.9 738.9,222.7 739.5,223.4 740.1,224.2 740.7,225.0 741.4,225.8 742.0,226.6 742.6,227.3 743.3,228.1 743.9,228.8 744.6,229.6 745.2,230.4 745.9,231.1 746.6,231.8 747.3,232.6 748.0,233.3 748.7,234.0 749.4,234.7 750.1,235.4 750.8,236.1 751.5,236.8 752.3,237.4 753.0,238.1 753.8,238.7 754.6,239.4 755.4,240.0 756.2,240.6 757.0,241.2 757.8,241.7 758.6,242.3 759.5,242.8 760.3,243.3 761.2,243.8 762.1,244.2 763.0,244.6 763.9,245.0 764.8,245.3 765.8,245.6 766.7,245.9 767.7,246.1 768.7,246.3 769.6,246.5 770.6,246.6 771.6,246.7 772.6,246.8 773.6,246.9 774.6,247.0 L774.6,247.0 774.4,248.0 774.3,249.0 774.1,250.0 774.0,250.9 773.8,251.9 773.6,252.9 773.4,253.9 773.2,254.9 773.0,255.8 772.7,256.8 772.5,257.8 772.2,258.7 771.9,259.7 771.6,260.6 771.3,261.6 770.9,262.5 770.6,263.5 770.3,264.4 769.9,265.3 769.6,266.3 769.2,267.2 768.9,268.2 768.5,269.1 768.2,270.0 767.9,271.0 767.5,271.9 767.2,272.9 766.8,273.8 766.5,274.7 766.1,275.7 765.8,276.6 765.4,277.5 765.1,278.5 764.7,279.4 764.4,280.3 764.0,281.3 763.6,282.2 763.3,283.1 762.9,284.1 762.5,285.0 762.2,285.9 761.8,286.9 761.4,287.8 761.0,288.7 760.6,289.6 760.2,290.5 759.8,291.5 759.4,292.4 759.0,293.3 758.6,294.2 758.2,295.1 757.8,296.0 757.3,296.9 756.9,297.8 756.5,298.7 756.0,299.6 755.6,300.5 755.1,301.4 754.7,302.3 754.2,303.2 753.8,304.1 753.3,305.0 752.8,305.8 752.3,306.7 751.8,307.6 751.3,308.4 750.8,309.3 750.3,310.1 749.8,311.0 749.2,311.8 748.7,312.7 748.1,313.5 747.6,314.4 747.0,315.2 746.5,316.0 745.9,316.8 745.3,317.7 744.8,318.5 744.2,319.3 743.6,320.1 743.0,320.9 742.4,321.7 741.7,322.5 741.1,323.3 740.5,324.0 739.9,324.8 739.2,325.6 738.6,326.4 738.0,327.1 737.3,327.9 736.6,328.6 736.0,329.4 735.3,330.1 734.6,330.9 734.0,331.6 733.3,332.3 732.6,333.1 731.9,333.8 731.2,334.5 730.5,335.2 729.8,335.9 729.1,336.6 728.4,337.4 727.7,338.1 727.0,338.8 726.3,339.5 725.5,340.1 724.8,340.8 724.1,341.5 723.4,342.2 722.6,342.9 721.9,343.6 721.2,344.2 720.4,344.9 719.7,345.6 718.9,346.2 718.2,346.9 717.4,347.6 716.7,348.2 715.9,348.9 715.2,349.6 714.4,350.2 713.7,350.9 712.9,351.5 712.2,352.2 711.4,352.8 710.6,353.5 709.9,354.1 709.1,354.8 708.4,355.4 707.6,356.1 706.8,356.7 706.1,357.4 705.3,358.0 704.5,358.6 703.7,359.2 702.9,359.9 702.2,360.5 701.4,361.1 700.6,361.7 699.8,362.3 699.0,362.9 698.2,363.5 697.4,364.1 696.6,364.7 695.8,365.3 695.0,365.9 694.2,366.5 693.4,367.1 692.5,367.7 691.7,368.2 690.9,368.8 690.1,369.4 689.2,369.9 688.4,370.5 687.6,371.0 686.7,371.5 685.9,372.1 685.0,372.6 684.2,373.1 683.3,373.6 682.4,374.2 681.6,374.7 680.7,375.2 679.8,375.6 679.0,376.1 678.1,376.6 677.2,377.1 676.3,377.5 675.4,378.0 674.5,378.5 673.6,378.9 672.7,379.3 671.8,379.7 670.9,380.2 670.0,380.6 669.1,381.0 668.2,381.4 667.3,381.8 666.3,382.2 665.4,382.5 664.5,382.9 663.6,383.3 662.6,383.7 661.7,384.1 660.8,384.5 659.9,384.8 659.0,385.2 658.0,385.6 657.1,386.0 656.2,386.4 655.3,386.9 654.4,387.3 653.5,387.7 652.6,388.1 651.7,388.5 650.7,388.9 649.8,389.3 648.9,389.7 648.0,390.0 647.0,390.4 646.1,390.7 645.2,391.1 644.2,391.4 643.3,391.7 642.3,392.0 641.4,392.3 640.4,392.7 639.5,393.0 638.5,393.3 637.6,393.6 636.6,393.9 635.7,394.3 634.7,394.6 633.8,394.9 632.9,395.3 631.9,395.6 631.0,395.9 630.0,396.3 629.1,396.6 628.1,396.9 627.2,397.2 626.2,397.6 625.3,397.9 624.3,398.2 623.4,398.5 622.4,398.8 621.5,399.0 620.5,399.3 619.5,399.6 618.6,399.9 617.6,400.1 616.7,400.4 615.7,400.6 614.7,400.9 613.7,401.1 612.8,401.4 611.8,401.6 610.8,401.8 609.9,402.1 608.9,402.3 607.9,402.5 606.9,402.7 606.0,402.9 605.0,403.1 604.0,403.3 603.0,403.5 602.0,403.7 601.0,403.9 600.1,404.0 599.1,404.2 598.1,404.3 597.1,404.4 596.1,404.6 595.1,404.7 594.1,404.8 593.1,404.9 592.1,405.0 591.1,405.2 590.1,405.3 589.1,405.4 588.1,405.5 587.1,405.6 586.1,405.7 585.2,405.8 584.2,405.8 583.2,405.9 582.2,406.0 581.2,406.1 580.2,406.2 579.2,406.3 578.2,406.4 577.2,406.5 576.2,406.6 575.2,406.7 574.2,406.8 573.2,407.0 572.2,407.1 571.2,407.3 570.3,407.4 569.3,407.6 568.3,407.8 567.3,408.0 566.3,408.3 565.4,408.5 564.4,408.7 563.4,409.0 562.5,409.2 561.5,409.5 560.5,409.7 559.6,410.0 558.6,410.2 557.6,410.4 556.6,410.7 555.7,410.9 554.7,411.1 553.7,411.4 552.8,411.6 551.8,411.9 550.8,412.2 549.9,412.5 548.9,412.8 548.0,413.1 547.0,413.4 546.1,413.8 545.2,414.2 544.3,414.5 543.4,414.9 542.5,415.4 541.6,415.8 540.7,416.2 539.8,416.7 538.9,417.2 538.0,417.7 537.1,418.1 536.3,418.6 535.4,419.1 534.5,419.6 533.7,420.1 532.8,420.7 532.0,421.2 531.1,421.7 530.3,422.2 529.4,422.7 528.6,423.3 527.7,423.8 526.9,424.3 526.0,424.9 525.2,425.4 524.3,426.0 523.5,426.5 522.7,427.1 521.9,427.6 521.0,428.2 520.2,428.8 519.4,429.4 518.6,430.0 517.8,430.6 517.0,431.2 516.2,431.8 515.4,432.4 514.7,433.0 513.9,433.7 513.1,434.3 512.4,435.0 511.6,435.6 510.9,436.3 510.1,437.0 509.4,437.6 508.6,438.3 507.9,439.0 507.2,439.6 506.4,440.3 505.7,441.0 505.0,441.7 504.2,442.4 503.5,443.1 502.8,443.8 502.1,444.5 501.4,445.2 500.7,445.9 500.0,446.6 499.3,447.4 498.7,448.1 498.0,448.9 497.4,449.6 496.7,450.4 496.0,451.1 495.4,451.9 494.7,452.6 494.1,453.4 493.4,454.1 492.7,454.9 492.1,455.6 491.4,456.4 490.7,457.1 490.0,457.8 489.4,458.6 488.7,459.3 488.0,460.0 487.3,460.7 486.6,461.4 485.9,462.1 485.1,462.8 484.4,463.5 483.7,464.2 483.0,464.9 482.2,465.6 481.5,466.2 480.7,466.9 480.0,467.5 479.2,468.2 478.4,468.8 477.7,469.5 476.9,470.1 476.1,470.7 475.3,471.3 474.5,471.9 473.7,472.4 472.8,473.0 472.0,473.5 471.1,474.0 470.3,474.5 469.4,475.0 468.5,475.5 467.6,475.9 466.7,476.4 465.8,476.8 464.9,477.2 464.0,477.6 463.1,478.0 462.2,478.4 461.3,478.7 460.3,479.1 459.4,479.3 458.5,479.6 457.5,479.7 456.5,479.8 455.6,479.6 454.7,479.3 453.9,478.9 453.1,478.2 452.4,477.5 451.9,476.8 451.3,475.9 450.9,475.1 450.5,474.2 450.2,473.3 449.9,472.3 449.6,471.4 449.4,470.4 449.2,469.4 449.0,468.5 448.8,467.5 448.7,466.5 448.5,465.5 448.4,464.5 448.3,463.5 448.2,462.5 448.0,461.5 447.9,460.6 447.8,459.6 447.7,458.6 447.6,457.6 447.5,456.6 447.4,455.6 447.2,454.6 447.1,453.6 447.0,452.6 446.9,451.6 446.7,450.6 446.6,449.6 446.4,448.7 446.2,447.7 446.1,446.7 445.9,445.7 445.7,444.7 445.5,443.7 445.2,442.8 445.0,441.8 444.8,440.8 444.6,439.8 444.3,438.9 444.1,437.9 443.9,436.9 443.6,436.0 443.4,435.0 443.2,434.0 442.9,433.0 442.7,432.1 442.5,431.1 442.3,430.1 442.0,429.1 441.8,428.2 441.6,427.2 441.3,426.2 441.1,425.3 440.8,424.3 440.5,423.3 440.2,422.4 439.9,421.4 439.6,420.5 439.2,419.6 438.9,418.7 438.4,417.7 438.0,416.8 437.6,416.0 437.1,415.1 436.6,414.2 436.1,413.3 435.6,412.5 435.0,411.7 434.5,410.8 433.9,410.0 433.3,409.2 432.7,408.4 432.1,407.6 431.5,406.9 430.8,406.1 430.1,405.4 429.4,404.7 428.7,404.0 428.0,403.3 427.3,402.6 426.5,401.9 425.8,401.3 425.0,400.6 424.3,400.0 423.5,399.4 422.7,398.8 421.9,398.2 421.1,397.6 420.3,397.0 419.5,396.4 418.6,395.8 417.8,395.3 417.0,394.7 416.1,394.2 415.3,393.7 414.4,393.2 413.5,392.7 412.7,392.2 411.8,391.7 410.9,391.3 410.0,390.8 409.1,390.4 408.2,389.9 407.3,389.5 406.4,389.1 405.5,388.7 404.6,388.3 403.6,387.9 402.7,387.5 401.8,387.2 400.9,386.8 399.9,386.4 399.0,386.0 398.1,385.7 397.1,385.3 396.2,384.9 395.3,384.6 394.3,384.2 393.4,383.9 392.5,383.5 391.5,383.2 390.6,382.8 389.7,382.5 388.7,382.2 387.8,381.8 386.8,381.5 385.9,381.2 384.9,380.9 384.0,380.6 383.0,380.3 382.0,380.0 381.1,379.8 380.1,379.5 379.1,379.3 378.2,379.0 377.2,378.8 376.2,378.5 375.3,378.3 374.3,378.1 373.3,377.9 372.3,377.7 371.4,377.4 370.4,377.2 369.4,377.0 368.4,376.8 367.5,376.6 366.5,376.3 365.5,376.1 364.5,375.9 363.6,375.7 362.6,375.5 361.6,375.2 360.6,375.0 359.6,374.8 358.7,374.6 357.7,374.4 356.7,374.2 355.7,374.0 354.7,373.8 353.8,373.7 352.8,373.5 351.8,373.3 350.8,373.1 349.8,372.9 348.8,372.8 347.9,372.6 346.9,372.4 345.9,372.2 344.9,372.1 343.9,371.9 342.9,371.7 341.9,371.6 341.0,371.4 340.0,371.3 339.0,371.1 338.0,371.0 337.0,370.8 336.0,370.7 335.0,370.6 334.0,370.5 333.0,370.3 332.0,370.2 331.0,370.1 330.0,370.0 329.0,369.9 328.1,369.8 327.1,369.6 326.1,369.5 325.1,369.4 324.1,369.3 323.1,369.2 322.1,369.0 321.1,368.9 320.1,368.8 319.1,368.7 318.1,368.5 317.1,368.4 316.1,368.3 315.1,368.2 314.2,368.0 313.2,367.9 312.2,367.8 311.2,367.7 310.2,367.5 309.2,367.4 308.2,367.3 307.2,367.2 306.2,367.1 305.2,366.9 304.2,366.8 303.2,366.7 302.2,366.6 301.2,366.5 300.3,366.4 299.3,366.3 298.3,366.1 297.3,366.0 296.3,365.9 295.3,365.8 294.3,365.7 293.3,365.6 292.3,365.5 291.3,365.4 290.3,365.3 289.3,365.2 288.3,365.1 287.3,365.0 286.3,364.9 285.3,364.8 284.3,364.7 283.3,364.6 282.3,364.5 281.3,364.4 280.3,364.3 279.4,364.2 278.4,364.1 277.4,364.1 276.4,364.0 275.4,363.9 274.4,363.8 273.4,363.7 272.4,363.6 271.4,363.5 270.4,363.4 269.4,363.3 268.4,363.2 267.4,363.2 266.4,363.1 265.4,363.0 264.4,362.9 263.4,362.9 262.4,362.8 261.4,362.7 260.4,362.6 259.4,362.6 258.4,362.5 257.4,362.5 256.4,362.4 255.4,362.3 254.4,362.3 253.4,362.2 252.4,362.2 251.4,362.1 250.4,362.1 249.4,362.0 248.4,362.0 247.4,361.9 246.4,361.9 245.4,361.8 244.4,361.8 243.4,361.7 242.4,361.7 241.4,361.6 240.4,361.6 239.4,361.5 238.4,361.5 237.4,361.4 236.4,361.4 235.4,361.4 234.4,361.3 233.4,361.3 232.4,361.2 231.4,361.2 230.4,361.1 229.4,361.1 228.4,361.0 227.4,361.0 226.4,360.9 225.4,360.9 224.5,360.8 223.5,360.8 222.5,360.7 221.5,360.7 220.5,360.6 219.5,360.6 218.5,360.5 217.5,360.5 216.5,360.4 215.5,360.4 214.5,360.3 213.5,360.3 212.5,360.2 211.5,360.2 210.5,360.1 209.5,360.1 208.5,360.0 207.5,360.0 206.5,359.9 205.5,359.9 204.5,359.8 203.5,359.8 202.5,359.7 201.5,359.7 200.5,359.6 199.5,359.6 198.5,359.5 197.5,359.5 196.5,359.5 195.5,359.4 194.5,359.4 193.5,359.3 192.5,359.3 191.5,359.2 190.5,359.2 189.5,359.1 188.5,359.1 187.5,359.1 186.5,359.0 185.5,359.0 184.5,358.9 183.5,358.9 182.5,358.9 181.5,358.8 180.5,358.8 179.5,358.7 178.5,358.7 177.5,358.7 176.5,358.6 175.5,358.6 174.5,358.5 173.5,358.5 172.5,358.5 171.5,358.4 170.5,358.4 169.5,358.4 168.5,358.3 167.5,358.3 166.5,358.3 165.5,358.2 164.5,358.2 163.5,358.2 162.5,358.1 161.5,358.1 160.5,358.1 159.5,358.0 158.5,358.0 157.5,358.0 156.5,357.9 155.5,357.9 154.5,357.9 153.5,357.8 152.5,357.8 151.5,357.8 150.5,357.7 149.5,357.7 148.5,357.6 147.5,357.6 146.5,357.6 145.5,357.5 144.5,357.5 143.5,357.5 142.5,357.4 141.5,357.4 140.5,357.4 139.5,357.3 138.5,357.3 137.5,357.3 136.5,357.2 135.5,357.2 134.5,357.2 133.5,357.1 132.5,357.1 131.5,357.1 130.5,357.0 129.5,357.0 128.5,357.0 127.5,356.9 126.5,356.9 125.5,356.9 124.5,356.8 123.5,356.8 122.5,356.8 121.5,356.7 120.5,356.7 119.5,356.7 118.5,356.6 117.5,356.6 116.5,356.6 115.5,356.5 115.0,356.5" fill="none" stroke="#000" stroke-width="3" stroke-linejoin="miter" stroke-miterlimit="10" stroke-linecap="butt"/>
<polyline points="115.2,345.1 250,345.6 340,346.0 450,346.2 550,346.0 620,345.7 700,345.4 815.8,344.8" fill="none" stroke="#808080" stroke-width="5.3"/>
<g font-size="24">
<text x="93.6" y="631.07" text-anchor="end">-40</text>
<text x="93.6" y="561.79" text-anchor="end">-30</text>
<text x="93.6" y="492.51" text-anchor="end">-20</text>
<text x="93.6" y="423.23" text-anchor="end">-10</text>
<text x="93.6" y="353.95" text-anchor="end">0</text>
<text x="93.6" y="284.67" text-anchor="end">10</text>
<text x="93.6" y="215.39" text-anchor="end">20</text>
<text x="93.6" y="146.11" text-anchor="end">30</text>
<text x="93.6" y="76.83" text-anchor="end">40</text>
</g>
<g font-size="24" font-weight="bold">
<text x="95.72" y="696.7" textLength="39.95" lengthAdjust="spacingAndGlyphs">-0.2</text>
<text x="264.33" y="696.7" textLength="32.24" lengthAdjust="spacingAndGlyphs">0.0</text>
<text x="429.08" y="696.7" textLength="32.24" lengthAdjust="spacingAndGlyphs">0.2</text>
<text x="593.83" y="696.7" textLength="32.24" lengthAdjust="spacingAndGlyphs">0.4</text>
<text x="758.58" y="696.7" textLength="32.24" lengthAdjust="spacingAndGlyphs">0.6</text>
</g>
<text x="241.6" y="728.3" font-size="30" font-weight="bold" textLength="344.8" lengthAdjust="spacingAndGlyphs">Potential <tspan class="pr">(</tspan>V vs. Ag/AgCl<tspan class="pr">)</tspan></text>
<text transform="translate(52,509.3) rotate(-90)" font-size="30" font-weight="bold">Current density <tspan class="pr">(</tspan>mA/cm<tspan font-size="20" font-weight="normal" dy="-14.2" dx="1.2">2</tspan><tspan class="pr" dy="14.2" dx="-0.5">)</tspan></text>
<g stroke-linecap="round" stroke-width="3">
<line x1="138.6" y1="77.3" x2="192.8" y2="77.3" stroke="#000"/>
<line x1="138.6" y1="113.4" x2="192.8" y2="113.4" stroke="#ff0000"/>
<line x1="138.6" y1="149.5" x2="192.8" y2="149.5" stroke="#808080" stroke-width="3.3"/>
</g>
<g font-size="24">
<text x="200" y="85" letter-spacing="0.12">Ni(OH)<tspan font-size="17.5" dy="7.5">2</tspan><tspan dy="-7.5">-DW/CP</tspan></text>
<text x="200" y="121" letter-spacing="0.12">Ni(OH)<tspan font-size="17.5" dy="7.5">2</tspan><tspan dy="-7.5">-DMSO/CP</tspan></text>
<text x="200" y="157.3">Cp</text>
</g>
</svg>
</body></html>
